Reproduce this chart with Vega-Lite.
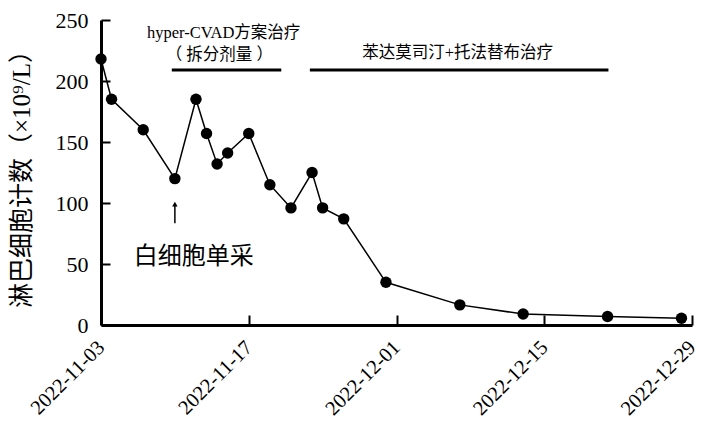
{
  "$schema": "https://vega.github.io/schema/vega-lite/v6.json",
  "width": 591,
  "height": 305,
  "autosize": "none",
  "padding": {"left": 101, "top": 20, "right": 16, "bottom": 97},
  "background": "white",
  "config": {"view": {"stroke": null}, "font": "Liberation Serif, Noto Sans CJK SC"},
  "datasets": {
    "series": [
      {"date": "2022-11-03", "value": 218},
      {"date": "2022-11-04", "value": 185},
      {"date": "2022-11-07", "value": 160},
      {"date": "2022-11-10", "value": 120},
      {"date": "2022-11-12", "value": 185},
      {"date": "2022-11-13", "value": 157},
      {"date": "2022-11-14", "value": 132},
      {"date": "2022-11-15", "value": 141},
      {"date": "2022-11-17", "value": 157},
      {"date": "2022-11-19", "value": 115},
      {"date": "2022-11-21", "value": 96},
      {"date": "2022-11-23", "value": 125},
      {"date": "2022-11-24", "value": 96},
      {"date": "2022-11-26", "value": 87},
      {"date": "2022-11-30", "value": 35},
      {"date": "2022-12-07", "value": 16.5},
      {"date": "2022-12-13", "value": 9},
      {"date": "2022-12-21", "value": 7},
      {"date": "2022-12-28", "value": 5.5}
    ],
    "bars": [
      {"date": "2022-11-09T17:00:00Z", "date2": "2022-11-20T02:00:00Z", "value": 209},
      {"date": "2022-11-22T19:00:00Z", "date2": "2022-12-21T02:00:00Z", "value": 209}
    ],
    "smallText": [
      {"date": "2022-11-14T15:00:00Z", "value": 239, "label": "hyper-CVAD方案治疗"},
      {"date": "2022-11-14T05:00:00Z", "value": 221, "label": "（ 拆分剂量 ）"},
      {"date": "2022-12-06T19:00:00Z", "value": 223, "label": "苯达莫司汀+托法替布治疗"}
    ],
    "bigText": [
      {"date": "2022-11-11T19:00:00Z", "value": 56, "label": "白细胞单采"}
    ],
    "arrow": [
      {"date": "2022-11-10", "value": 83.5, "value2": 99}
    ]
  },
  "encoding": {
    "x": {
      "field": "date", "type": "temporal", "title": null,
      "scale": {"type": "utc", "domain": [{"year": 2022, "month": 11, "date": 3, "utc": true}, {"year": 2022, "month": 12, "date": 29, "utc": true}]},
      "axis": {
        "values": [
          {"year": 2022, "month": 11, "date": 3, "utc": true},
          {"year": 2022, "month": 11, "date": 17, "utc": true},
          {"year": 2022, "month": 12, "date": 1, "utc": true},
          {"year": 2022, "month": 12, "date": 15, "utc": true},
          {"year": 2022, "month": 12, "date": 29, "utc": true}
        ],
        "format": "%Y-%m-%d", "grid": false,
        "domainColor": "black", "domainWidth": 3,
        "tickColor": "black", "tickWidth": 2, "tickSize": -10,
        "labelAngle": -45, "labelAlign": "right", "labelBaseline": "middle",
        "labelFontSize": 20.5, "labelColor": "black", "labelFont": "Liberation Serif",
        "labelPadding": 29, "labelFlush": false, "labelOverlap": false
      }
    },
    "y": {
      "field": "value", "type": "quantitative", "title": "淋巴细胞计数（×10⁹/L）",
      "scale": {"domain": [0, 250], "nice": false},
      "axis": {
        "values": [0, 50, 100, 150, 200, 250], "grid": false,
        "domainColor": "black", "domainWidth": 3,
        "tickColor": "black", "tickWidth": 2, "tickSize": -9,
        "labelFontSize": 22, "labelColor": "black", "labelFont": "Liberation Serif",
        "labelPadding": 22, "labelFlush": false,
        "titleFontSize": 25, "titleFontWeight": "normal", "titleColor": "black",
        "titleFont": "Liberation Serif, Noto Sans CJK SC", "titlePadding": 21
      }
    }
  },
  "layer": [
    {"data": {"name": "series"}, "mark": {"type": "line", "color": "black", "strokeWidth": 1.5}},
    {"data": {"name": "series"}, "mark": {"type": "point", "filled": true, "color": "black", "opacity": 1, "size": 130}},
    {"data": {"name": "bars"}, "mark": {"type": "rule", "color": "black", "strokeWidth": 3},
     "encoding": {"x2": {"field": "date2"}}},
    {"data": {"name": "smallText"}, "mark": {"type": "text", "fontSize": 16.5, "color": "black", "align": "center", "baseline": "middle"},
     "encoding": {"text": {"field": "label"}}},
    {"data": {"name": "bigText"}, "mark": {"type": "text", "fontSize": 24, "color": "black", "align": "center", "baseline": "middle", "font": "Noto Sans CJK SC"},
     "encoding": {"text": {"field": "label"}}},
    {"data": {"name": "arrow"}, "mark": {"type": "rule", "color": "black", "strokeWidth": 1.5},
     "encoding": {"y2": {"field": "value2"}}},
    {"data": {"name": "arrow"}, "mark": {"type": "point", "shape": "triangle-up", "filled": true, "color": "black", "opacity": 1, "size": 30},
     "encoding": {"y": {"field": "value2", "type": "quantitative", "title": "淋巴细胞计数（×10⁹/L）"}}}
  ]
}
